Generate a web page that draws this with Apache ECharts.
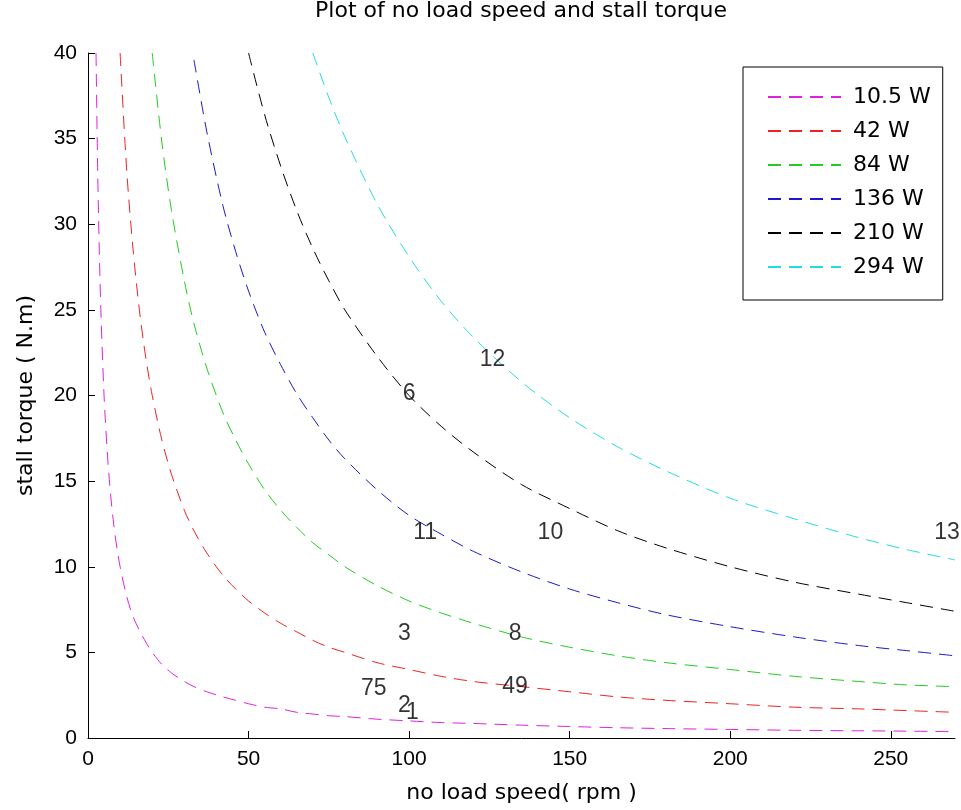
<!DOCTYPE html>
<html>
<head>
<meta charset="utf-8">
<script src="https://cdn.jsdelivr.net/npm/echarts@6/dist/echarts.min.js"></script>
<style>
  html, body { margin: 0; padding: 0; background: #fff; }
  #main { width: 961px; height: 810px; }
</style>
</head>
<body>
<div id="main"></div>
<script>
var speeds = [2.5, 3, 3.5, 4, 5, 6, 7, 8, 9, 10, 12, 14, 16, 18, 20, 23, 26, 30, 33, 37, 42, 46, 50, 55, 60, 65, 70, 75, 80, 90, 100, 110, 120, 135, 150, 165, 180, 200, 220, 240, 255, 270];

// stall torque (N.m) for each power, null where above the 40 N.m top
var torque10 = [40, 33.3, 28.6, 25, 20, 16.7, 14.3, 12.5, 11.1, 10, 8.3, 7.1, 6.3, 5.6, 5, 4.3, 3.8, 3.3, 3.0, 2.7, 2.4, 2.2, 2.0, 1.8, 1.7, 1.5, 1.4, 1.3, 1.25, 1.1, 1.0, 0.9, 0.85, 0.75, 0.67, 0.6, 0.55, 0.5, 0.45, 0.42, 0.4, 0.37];
var torque42 = [null, null, null, null, null, null, null, null, null, 40, 33.3, 28.6, 25, 22.2, 20, 17.4, 15.4, 13.3, 12.1, 10.8, 9.5, 8.7, 8.0, 7.3, 6.7, 6.2, 5.7, 5.3, 5.0, 4.4, 4.0, 3.6, 3.3, 3.0, 2.7, 2.4, 2.2, 2.0, 1.8, 1.7, 1.6, 1.5];
var torque84 = [null, null, null, null, null, null, null, null, null, null, null, null, null, null, 40, 34.8, 30.8, 26.7, 24.2, 21.6, 19.0, 17.4, 16.0, 14.5, 13.3, 12.3, 11.4, 10.7, 10.0, 8.9, 8.0, 7.3, 6.7, 5.9, 5.3, 4.8, 4.4, 4.0, 3.6, 3.3, 3.1, 3.0];
var torque136 = [null, null, null, null, null, null, null, null, null, null, null, null, null, null, null, null, null, null, 39.6, 35.4, 31.1, 28.4, 26.1, 23.7, 21.8, 20.1, 18.7, 17.4, 16.3, 14.5, 13.0, 11.9, 10.9, 9.7, 8.7, 7.9, 7.2, 6.5, 5.9, 5.4, 5.1, 4.8];
var torque210 = [null, null, null, null, null, null, null, null, null, null, null, null, null, null, null, null, null, null, null, null, null, null, 40, 36.4, 33.4, 30.8, 28.6, 26.7, 25.0, 22.3, 20.0, 18.2, 16.7, 14.8, 13.4, 12.1, 11.1, 10.0, 9.1, 8.4, 7.9, 7.4];
var torque294 = [null, null, null, null, null, null, null, null, null, null, null, null, null, null, null, null, null, null, null, null, null, null, null, null, null, null, 40, 37.4, 35.1, 31.2, 28.1, 25.5, 23.4, 20.8, 18.7, 17.0, 15.6, 14.0, 12.8, 11.7, 11.0, 10.4];

var powerNames = ['10.5 W', '42 W', '84 W', '136 W', '210 W', '294 W'];
var powerColors = ['#dd22dd', '#ee2222', '#22cc22', '#1a1acc', '#000000', '#22dddd'];
var torqueSets = [torque10, torque42, torque84, torque136, torque210, torque294];

// loose numbers written on the plot
var noteX = [126, 100, 105, 144, 267.5, 98.5, 133, 89, 98.5, 101, 133];
var noteY = [22.1, 20.1, 12.0, 12.0, 12.0, 6.1, 6.1, 2.9, 1.9, 1.5, 3.0];
var noteText = ['12', '6', '11', '10', '13', '3', '8', '75', '2', '1', '49'];

var font = 'DejaVu Sans, Verdana, sans-serif';
var numFont = 'Liberation Sans, Arial, sans-serif';
var chart = echarts.init(document.getElementById('main'));

var series = powerNames.map(function (name, i) {
    return {
        name: name,
        type: 'line',
        symbol: 'none',
        smooth: 0.3,
        data: speeds.map(function (s, j) { return [s, torqueSets[i][j]]; }),
        lineStyle: { color: powerColors[i], width: 1, type: [13, 8] },
        itemStyle: { color: powerColors[i] },
        z: 2
    };
});

series.push({
    type: 'scatter',
    symbolSize: 0,
    silent: true,
    data: noteX.map(function (x, i) { return { value: [x, noteY[i]], name: noteText[i] }; }),
    label: {
        show: true,
        position: 'inside',
        formatter: '{b}',
        color: '#000',
        fontSize: 23,
        fontFamily: numFont
    },
    z: 5
});

var option = {
    backgroundColor: '#fff',
    animation: false,
    title: {
        text: 'Plot of no load speed and stall torque',
        left: 521,
        textAlign: 'center',
        top: 0,
        padding: 0,
        textStyle: { fontSize: 22, fontWeight: 'normal', color: '#000', fontFamily: font }
    },
    legend: {
        orient: 'vertical',
        left: 743,
        top: 67,
        data: powerNames,
        backgroundColor: '#fff',
        borderColor: '#000',
        borderWidth: 1,
        padding: [19, 12, 22, 24],
        itemWidth: 73,
        itemHeight: 14,
        itemGap: 12,
        itemStyle: { opacity: 0 },
        textStyle: { fontSize: 22, color: '#000', fontFamily: font, padding: [0, 0, 0, 7] }
    },
    grid: { left: 88, right: 6, top: 53, bottom: 72 },
    xAxis: {
        type: 'value',
        min: 0,
        max: 270,
        interval: 50,
        name: 'no load speed( rpm )',
        nameLocation: 'middle',
        nameGap: 44,
        nameTextStyle: { fontSize: 22, color: '#000', fontFamily: font },
        axisLine: { lineStyle: { color: '#000', width: 1 } },
        axisTick: { inside: true, length: 7, lineStyle: { color: '#000' } },
        axisLabel: { showMaxLabel: false, fontSize: 21, color: '#000', fontFamily: numFont, margin: 11 },
        splitLine: { show: false }
    },
    yAxis: {
        type: 'value',
        min: 0,
        max: 40,
        interval: 5,
        name: 'stall torque ( N.m)',
        nameLocation: 'middle',
        nameGap: 51,
        nameTextStyle: { fontSize: 22, color: '#000', fontFamily: font },
        axisLine: { lineStyle: { color: '#000', width: 1 } },
        axisTick: { inside: true, length: 7, lineStyle: { color: '#000' } },
        axisLabel: { fontSize: 21, color: '#000', fontFamily: numFont, margin: 11 },
        splitLine: { show: false }
    },
    series: series
};
chart.setOption(option);
</script>
</body>
</html>
